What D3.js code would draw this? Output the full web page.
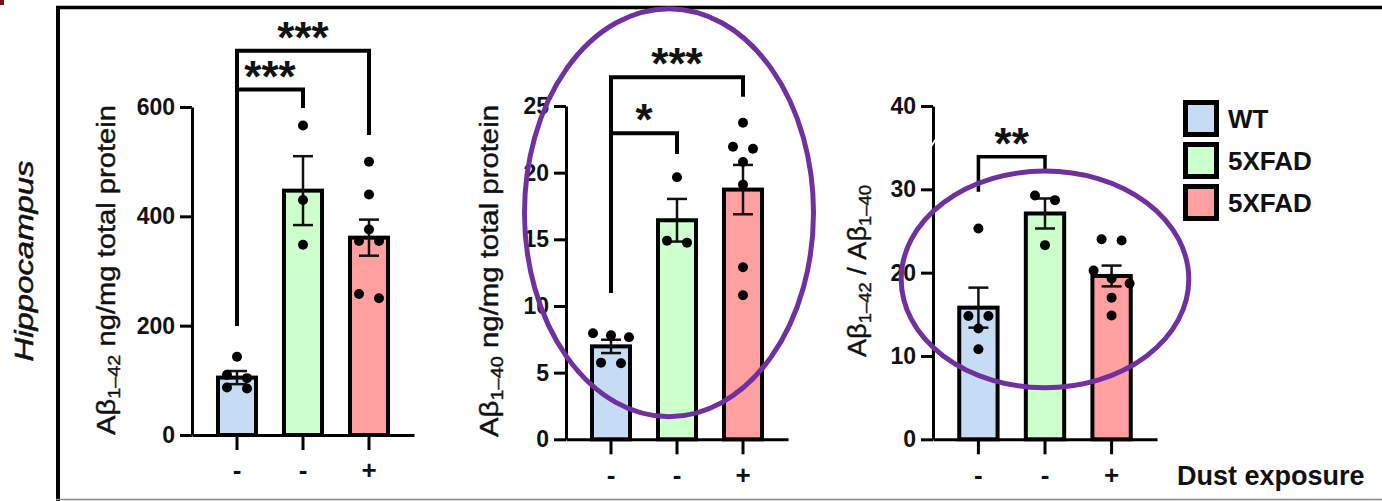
<!DOCTYPE html>
<html>
<head>
<meta charset="utf-8">
<script src="https://cdn.jsdelivr.net/npm/d3@7"></script>
<style>
  html, body { margin: 0; padding: 0; background: #fff; }
  svg { display: block; }
  text { font-family: "Liberation Sans", Arial, Helvetica, sans-serif; }
</style>
</head>
<body>
<svg id="chart" width="1382" height="501"></svg>
<script>
// ---------------- DATA ----------------
const dustLabels = ["-", "-", "+"];
const legendLabels = ["WT", "5XFAD", "5XFAD"];
const groupIndex = [0, 1, 2];

const ab42Mean = [105, 447, 361];
const ab42Sem = [12, 63, 33];
const ab42Points = [[143, 110, 104, 87, 85], [566, 430, 348], [500, 440, 376, 355, 355, 258, 250]];
const ab42Ticks = [0, 200, 400, 600];
const ab42Sig = [
  { from: 0, to: 1, label: "***", level: 632, fromBase: 200, toBase: 598 },
  { from: 0, to: 2, label: "***", level: 703, fromBase: 200, toBase: 549 }
];

const ab40Mean = [6.97, 16.43, 18.73];
const ab40Sem = [0.5, 1.6, 1.85];
const ab40Points = [[7.95, 7.8, 7.65, 5.75, 5.7], [19.65, 14.9, 14.75], [23.75, 21.95, 21.8, 20.8, 19.1, 12.9, 10.8]];
const ab40Ticks = [0, 5, 10, 15, 20, 25];
const ab40Sig = [
  { from: 0, to: 1, label: "*", level: 22.95, fromBase: 11.0, toBase: 21.4 },
  { from: 0, to: 2, label: "***", level: 27.15, fromBase: 11.0, toBase: 25.7 }
];

const ratioMean = [15.8, 27.1, 19.6];
const ratioSem = [2.4, 1.8, 1.25];
const ratioPoints = [[25.3, 14.8, 14.8, 13.3, 10.8], [29.25, 28.7, 23.3], [24.0, 23.85, 20.25, 19.3, 18.7, 17.0, 14.85]];
const ratioTicks = [0, 10, 20, 30, 40];
const ratioSig = [
  { from: 0, to: 1, label: "**", level: 33.9, fromBase: 29.7, toBase: 32.1 }
];

// highlight rings (centre and half-height in data units)
const ab40Ring = { centerValue: 17.0, halfValue: 15.3 };
const ratioRing = { centerValue: 19.2, halfValue: 13.0 };

// ---------------- STYLE / LAYOUT ----------------
const barFill = ["#C6DCF5", "#CCFFCC", "#FF9F9F"];
const ringColor = "#7030A0";
const svg = d3.select("#chart");

// frame + corner mark
svg.append("rect").attr("x", 0).attr("y", 0).attr("width", 4).attr("height", 5).attr("fill", "#7A0C1E");
svg.append("line").attr("x1", 58).attr("x2", 58).attr("y1", 6).attr("y2", 501).attr("stroke", "#000").attr("stroke-width", 4);
svg.append("line").attr("x1", 56).attr("x2", 1382).attr("y1", 7.5).attr("y2", 7.5).attr("stroke", "#000").attr("stroke-width", 3.5);
svg.append("line").attr("x1", 56).attr("x2", 1382).attr("y1", 499.5).attr("y2", 499.5).attr("stroke", "#8a8a8a").attr("stroke-width", 1.5);

// Hippocampus label
svg.append("text")
  .attr("transform", "translate(33,261) rotate(-90)")
  .attr("text-anchor", "middle")
  .attr("font-size", 25)
  .attr("font-style", "italic")
  .attr("fill", "#111").attr("stroke", "#111").attr("stroke-width", 0.5)
  .attr("textLength", 201).attr("lengthAdjust", "spacingAndGlyphs")
  .text("Hippocampus");

function beeswarmOffsets(vals, y) {
  const idx = vals.map((v, i) => i).sort((a, b) => vals[b] - vals[a]);
  const offs = new Array(vals.length).fill(0);
  let group = [idx[0]];
  const flush = () => {
    const n = group.length;
    const sp = n === 2 ? 20 : 18;
    group.forEach((g, k) => { offs[g] = (k - (n - 1) / 2) * sp; });
  };
  for (let k = 1; k < idx.length; k++) {
    const prev = group[group.length - 1];
    if (Math.abs(y(vals[idx[k]]) - y(vals[prev])) < 9) group.push(idx[k]);
    else { flush(); group = [idx[k]]; }
  }
  flush();
  return offs;
}

function drawPanel(cfg) {
  const x = d3.scaleBand().domain(groupIndex).range([cfg.x0, cfg.x1])
    .paddingInner(0.4242).paddingOuter(0.394);
  const y = d3.scaleLinear().domain([0, cfg.ticks[cfg.ticks.length - 1]]).range([cfg.yBottom, cfg.yTop]);
  const g = svg.append("g");

  // y axis
  const ya = g.append("g").attr("transform", `translate(${cfg.x0},0)`)
    .call(d3.axisLeft(y).tickValues(cfg.ticks).tickSize(12).tickSizeOuter(0).tickPadding(5));
  ya.select(".domain").attr("stroke-width", 3);
  ya.selectAll(".tick line").attr("stroke-width", 3);
  ya.selectAll(".tick text").attr("font-size", 23).attr("font-weight", "bold")
    .attr("font-family", "Liberation Sans, Arial, sans-serif").attr("fill", "#111");

  // x axis
  const xa = g.append("g").attr("transform", `translate(0,${cfg.yBottom})`)
    .call(d3.axisBottom(x).tickSize(15).tickSizeOuter(0).tickPadding(11).tickFormat((d, i) => dustLabels[i]));
  xa.select(".domain").attr("stroke-width", 3);
  xa.selectAll(".tick line").attr("stroke-width", 3);
  xa.selectAll(".tick text").attr("font-size", 26).attr("font-weight", "bold")
    .attr("font-family", "Liberation Sans, Arial, sans-serif").attr("fill", "#111");

  // bars
  g.selectAll(".bar").data(cfg.mean).join("rect")
    .attr("x", (d, i) => x(i)).attr("width", x.bandwidth())
    .attr("y", d => y(d)).attr("height", d => y(0) - y(d))
    .attr("fill", (d, i) => barFill[i]).attr("stroke", "#000").attr("stroke-width", 4);

  // error bars
  cfg.mean.forEach((m, i) => {
    const cx = x(i) + x.bandwidth() / 2;
    const lo = y(m - cfg.sem[i]), hi = y(m + cfg.sem[i]);
    g.append("line").attr("x1", cx).attr("x2", cx).attr("y1", lo).attr("y2", hi).attr("stroke", "#111").attr("stroke-width", 2.5);
    [lo, hi].forEach(yy => g.append("line").attr("x1", cx - 10).attr("x2", cx + 10).attr("y1", yy).attr("y2", yy)
      .attr("stroke", "#111").attr("stroke-width", 2.5));
  });

  // points
  cfg.points.forEach((vals, i) => {
    const cx = x(i) + x.bandwidth() / 2;
    const offs = beeswarmOffsets(vals, y);
    g.selectAll(null).data(vals).join("circle")
      .attr("cx", (d, k) => cx + offs[k]).attr("cy", d => y(d)).attr("r", 5).attr("fill", "#000");
  });

  // significance brackets
  cfg.sig.forEach(s => {
    const xa0 = x(s.from) + x.bandwidth() / 2, xa1 = x(s.to) + x.bandwidth() / 2;
    const yl = y(s.level);
    g.append("path")
      .attr("d", `M${xa0},${y(s.fromBase)}V${yl}H${xa1}V${y(s.toBase)}`)
      .attr("fill", "none").attr("stroke", "#000").attr("stroke-width", cfg.sigWidth);
    g.append("text").attr("x", (xa0 + xa1) / 2).attr("y", yl + 2)
      .attr("text-anchor", "middle").attr("font-size", 44).attr("font-weight", "bold").attr("fill", "#111")
      .text(s.label);
  });

  // axis title
  const t = g.append("text")
    .attr("transform", `translate(${cfg.titleX},${cfg.titleY}) rotate(-90)`)
    .attr("text-anchor", "middle").attr("font-size", 25).attr("fill", "#111")
    .attr("stroke", "#111").attr("stroke-width", 0.4)
    .attr("textLength", cfg.titleLen).attr("lengthAdjust", "spacingAndGlyphs");
  cfg.title.forEach(part => {
    t.append("tspan").attr("font-size", part.sub ? 17 : 25).attr("dy", part.sub ? 5 : (part.after ? -5 : 0)).text(part.s);
  });

  return { x, y, g };
}

const p1 = drawPanel({
  x0: 192, x1: 414, yTop: 107, yBottom: 435, ticks: ab42Ticks,
  mean: ab42Mean, sem: ab42Sem, points: ab42Points, sig: ab42Sig, sigWidth: 4,
  titleX: 115, titleY: 270, titleLen: 330,
  title: [{ s: "Aβ" }, { s: "1–42", sub: true }, { s: " ng/mg total protein", after: true }]
});
const p2 = drawPanel({
  x0: 566, x1: 788, yTop: 106, yBottom: 439.3, ticks: ab40Ticks,
  mean: ab40Mean, sem: ab40Sem, points: ab40Points, sig: ab40Sig, sigWidth: 4,
  titleX: 498, titleY: 271, titleLen: 332,
  title: [{ s: "Aβ" }, { s: "1–40", sub: true }, { s: " ng/mg total protein", after: true }]
});
const p3 = drawPanel({
  x0: 933, x1: 1157, yTop: 106, yBottom: 439.3, ticks: ratioTicks,
  mean: ratioMean, sem: ratioSem, points: ratioPoints, sig: ratioSig, sigWidth: 3.5,
  titleX: 866, titleY: 271, titleLen: 172,
  title: [{ s: "Aβ" }, { s: "1–42", sub: true }, { s: " / Aβ", after: true }, { s: "1–40", sub: true }]
});

// small white artefact on third axis
p3.g.append("line").attr("x1", 930).attr("x2", 936).attr("y1", 148).attr("y2", 139).attr("stroke", "#fff").attr("stroke-width", 2);

// highlight rings
function ring(p, r, rx, shift) {
  const cx = p.x(1) + p.x.bandwidth() / 2 + shift;
  const cy = p.y(r.centerValue);
  const ry = p.y(0) - p.y(r.halfValue);
  svg.append("ellipse").attr("cx", cx).attr("cy", cy).attr("rx", rx).attr("ry", ry)
    .attr("fill", "none").attr("stroke", ringColor).attr("stroke-width", 5);
}
ring(p2, ab40Ring, 144.5, -8);
ring(p3, ratioRing, 143.8, 0);

// legend
const leg = svg.append("g");
legendLabels.forEach((lab, i) => {
  const yy = 102.5 + i * 42;
  leg.append("rect").attr("x", 1185.5).attr("y", yy).attr("width", 31).attr("height", 32)
    .attr("fill", barFill[i]).attr("stroke", "#000").attr("stroke-width", 5);
  leg.append("text").attr("x", 1228).attr("y", yy + 25).attr("font-size", 26).attr("font-weight", "bold").attr("fill", "#111").text(lab);
});
svg.append("text").attr("x", 1177).attr("y", 485).attr("font-size", 27).attr("font-weight", "bold").attr("fill", "#111").text("Dust exposure");
</script>
</body>
</html>
